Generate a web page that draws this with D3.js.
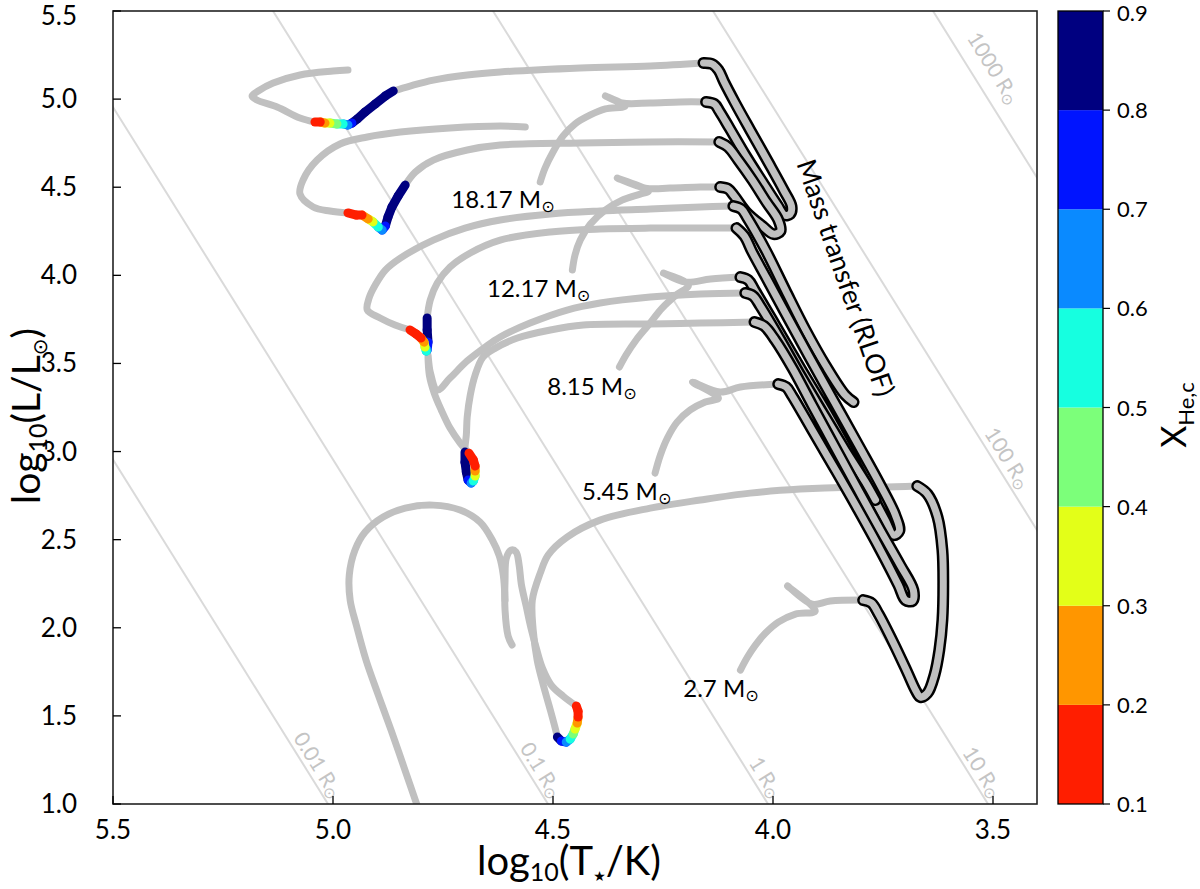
<!DOCTYPE html>
<html><head><meta charset="utf-8">
<script src="https://cdn.jsdelivr.net/npm/d3@7"></script>
<style>
body{margin:0;background:#fff}
svg{display:block}
text{font-family:Lato,"Noto Sans",sans-serif}
</style></head>
<body><svg id="c" width="1200" height="889"></svg>
<script>
// ---------------- data ----------------
const xTicks=[5.5,5.0,4.5,4.0,3.5];
const yTicks=[1.0,1.5,2.0,2.5,3.0,3.5,4.0,4.5,5.0,5.5];
const radii=[0.01,0.1,1,10,100,1000];
const radiusLabels=["0.01 R","0.1 R","1 R","10 R","100 R","1000 R"];
const radiusLabelL=[1.01,1.01,1.01,1.01,2.76,4.92];
const radiusLabelOff=[-5,-5,-5,-5,-6,-14];
const cbBounds=[0.1,0.2,0.3,0.4,0.5,0.6,0.7,0.8,0.9];
const cbColors=["#ff1e00","#ff9600","#e3ff18","#7cff7a","#16ffe0","#0a8aff","#0014ff","#000080"];
const massNames=["18.17","12.17","8.15","5.45","2.7"];
const massLabelAt=[[4.731,4.382],[4.650,3.877],[4.513,3.321],[4.434,2.725],[4.204,1.607]];
const rlofLabelAt=[3.836,3.985];

// evolutionary tracks [log T, log L]
const msA=[[4.529,4.530],[4.518,4.609],[4.500,4.700],[4.477,4.791],[4.450,4.859],[4.415,4.910],[4.381,4.944],[4.336,4.961],[4.381,5.018],[4.343,4.978],[4.279,4.978],[4.211,4.984],[4.152,4.984]];
const rlofA=[[4.152,4.984],[4.133,4.972],[4.122,4.932],[4.099,4.836],[4.063,4.683],[4.024,4.530],[3.990,4.399],[3.974,4.342],[3.961,4.348],[3.958,4.393],[3.976,4.484],[4.011,4.643],[4.052,4.825],[4.086,4.978],[4.111,5.097],[4.124,5.165],[4.138,5.199],[4.158,5.205]];
const postA=[[4.158,5.205],[4.279,5.188],[4.438,5.177],[4.620,5.154],[4.695,5.137],[4.772,5.108],[4.825,5.074],[4.863,5.046]];
const heA=[[4.863,5.046,0.88],[4.881,5.018,0.86],[4.904,4.972,0.85],[4.927,4.927,0.84],[4.945,4.887,0.83],[4.957,4.864,0.81],[4.966,4.853,0.75],[4.977,4.859,0.65],[4.991,4.859,0.55],[5.007,4.864,0.45],[5.018,4.864,0.35],[5.029,4.870,0.25],[5.041,4.870,0.15]];
const endA=[[5.041,4.870],[5.075,4.893],[5.127,4.955],[5.173,4.995],[5.184,5.018],[5.170,5.046],[5.136,5.091],[5.075,5.137],[5.000,5.159],[4.966,5.165]];

const msB=[[4.456,4.030],[4.450,4.115],[4.438,4.200],[4.415,4.291],[4.381,4.371],[4.343,4.427],[4.302,4.461],[4.283,4.478],[4.354,4.552],[4.290,4.495],[4.234,4.495],[4.165,4.501],[4.120,4.501]];
const rlofB=[[4.120,4.501],[4.102,4.490],[4.088,4.450],[4.061,4.359],[4.024,4.280],[3.999,4.234],[3.983,4.251],[3.988,4.314],[4.015,4.416],[4.047,4.541],[4.079,4.654],[4.102,4.728],[4.122,4.757]];
const postB=[[4.122,4.757],[4.279,4.757],[4.438,4.751],[4.620,4.739],[4.695,4.711],[4.772,4.654],[4.813,4.586],[4.836,4.512]];
const heB=[[4.836,4.512,0.88],[4.852,4.450,0.86],[4.866,4.388,0.85],[4.875,4.331,0.83],[4.881,4.280,0.81],[4.888,4.257,0.72],[4.897,4.274,0.62],[4.909,4.303,0.5],[4.920,4.320,0.38],[4.934,4.342,0.28],[4.947,4.342,0.18],[4.966,4.354,0.12]];
const endB=[[4.966,4.354],[5.007,4.365],[5.045,4.388],[5.075,4.461],[5.068,4.541],[5.036,4.654],[4.984,4.745],[4.922,4.785],[4.847,4.813],[4.734,4.836],[4.620,4.847],[4.563,4.842]];

const msC=[[4.349,3.480],[4.334,3.548],[4.311,3.633],[4.283,3.718],[4.252,3.814],[4.220,3.888],[4.192,3.945],[4.249,4.013],[4.199,3.962],[4.142,3.979],[4.074,3.990]];
const rlofC=[[4.074,3.990],[4.056,3.973],[4.042,3.917],[3.995,3.718],[3.938,3.474],[3.881,3.236],[3.824,2.980],[3.779,2.770],[3.745,2.611],[3.726,2.526],[3.713,2.549],[3.722,2.640],[3.756,2.810],[3.806,3.037],[3.863,3.292],[3.920,3.548],[3.972,3.786],[4.015,3.985],[4.047,4.132],[4.065,4.223],[4.083,4.268]];
const postC=[[4.083,4.268],[4.165,4.268],[4.279,4.268],[4.393,4.263],[4.506,4.246],[4.620,4.200],[4.688,4.127],[4.734,4.047],[4.763,3.956],[4.779,3.860],[4.786,3.758]];
const heC=[[4.786,3.758,0.88],[4.786,3.690,0.86],[4.784,3.621,0.83],[4.786,3.576,0.75],[4.788,3.570,0.65],[4.791,3.593,0.5],[4.793,3.621,0.38],[4.800,3.644,0.28],[4.811,3.667,0.18],[4.825,3.690,0.12]];
const endC=[[4.825,3.690],[4.859,3.718],[4.893,3.758],[4.922,3.803],[4.918,3.871],[4.904,3.945],[4.881,4.030],[4.847,4.098],[4.772,4.200],[4.700,4.268],[4.620,4.314],[4.506,4.348],[4.393,4.365],[4.279,4.376],[4.165,4.388],[4.090,4.393]];
const rlofC2=[[4.090,4.393],[4.072,4.376],[4.058,4.325],[4.017,4.144],[3.972,3.917],[3.926,3.690],[3.881,3.491],[3.836,3.321],[3.817,3.281]];

const msD=[[4.268,2.878],[4.256,2.980],[4.240,3.077],[4.218,3.167],[4.188,3.236],[4.154,3.281],[4.124,3.304],[4.183,3.394],[4.120,3.338],[4.074,3.366],[3.988,3.383]];
const rlofD=[[3.988,3.383],[3.970,3.366],[3.956,3.315],[3.911,3.122],[3.858,2.895],[3.806,2.668],[3.756,2.441],[3.715,2.242],[3.699,2.157],[3.683,2.152],[3.681,2.214],[3.711,2.356],[3.756,2.554],[3.806,2.781],[3.858,3.020],[3.911,3.264],[3.956,3.474],[3.995,3.633],[4.020,3.712],[4.042,3.735]];
const postD=[[4.042,3.735],[4.165,3.729],[4.279,3.724],[4.431,3.718],[4.506,3.690],[4.581,3.644],[4.631,3.587],[4.659,3.536],[4.677,3.434],[4.688,3.321],[4.695,3.196],[4.697,3.094],[4.700,3.026],[4.700,2.997]];
const heD=[[4.700,2.997,0.88],[4.700,2.940,0.86],[4.697,2.884,0.84],[4.693,2.838,0.81],[4.686,2.821,0.72],[4.681,2.833,0.62],[4.677,2.861,0.5],[4.677,2.889,0.38],[4.677,2.918,0.28],[4.681,2.952,0.18],[4.691,2.991,0.12]];
const endD=[[4.691,2.991],[4.711,3.048],[4.734,3.133],[4.754,3.236],[4.770,3.332],[4.781,3.434],[4.784,3.548],[4.779,3.451],[4.763,3.349],[4.734,3.417],[4.695,3.514],[4.654,3.593],[4.620,3.650],[4.552,3.729],[4.468,3.803],[4.393,3.843],[4.279,3.877],[4.165,3.894],[4.063,3.900]];
const rlofD2=[[4.063,3.900],[4.045,3.883],[4.029,3.826],[3.983,3.633],[3.938,3.434],[3.888,3.224],[3.836,3.009],[3.790,2.827],[3.767,2.725]];

const msE=[[4.074,1.760],[4.058,1.834],[4.040,1.902],[4.017,1.970],[3.988,2.032],[3.949,2.078],[3.904,2.095],[3.967,2.237],[3.911,2.134],[3.870,2.152],[3.795,2.157]];
const rlofE=[[3.795,2.157],[3.776,2.140],[3.760,2.078],[3.726,1.913],[3.695,1.749],[3.676,1.646],[3.665,1.607],[3.649,1.629],[3.633,1.732],[3.622,1.873],[3.615,2.044],[3.613,2.242],[3.615,2.441],[3.626,2.628],[3.649,2.759],[3.672,2.804]];
const postE=[[3.672,2.804],[3.756,2.798],[3.824,2.798],[3.938,2.787],[4.052,2.764],[4.165,2.725],[4.279,2.679],[4.393,2.611],[4.468,2.515],[4.511,2.413],[4.529,2.310],[4.547,2.157],[4.545,1.987],[4.536,1.817],[4.522,1.675],[4.506,1.533],[4.495,1.431],[4.490,1.380]];
const heE=[[4.490,1.380,0.88],[4.481,1.357,0.82],[4.470,1.351,0.72],[4.461,1.368,0.62],[4.454,1.397,0.52],[4.450,1.425,0.42],[4.445,1.459,0.32],[4.443,1.493,0.25],[4.443,1.527,0.18],[4.447,1.556,0.12]];
const endE=[[4.447,1.556],[4.477,1.612],[4.504,1.675],[4.524,1.771],[4.538,1.885],[4.550,1.998],[4.561,2.123],[4.572,2.248],[4.577,2.356],[4.584,2.430],[4.595,2.441],[4.606,2.396],[4.609,2.271],[4.609,2.100],[4.602,1.953],[4.593,1.902]];
const coolE=[[4.609,2.157],[4.613,2.299],[4.622,2.407],[4.638,2.498],[4.666,2.600],[4.711,2.668],[4.772,2.696],[4.836,2.679],[4.886,2.628],[4.927,2.543],[4.950,2.441],[4.963,2.299],[4.961,2.157],[4.947,2.015],[4.925,1.817],[4.897,1.618],[4.868,1.419],[4.838,1.204],[4.809,0.994]];

const plainTracks=[msA,postA,endA,msB,postB,endB,msC,postC,endC,msD,postD,endD,msE,postE,endE,coolE];
const rlofTracks=[rlofA,rlofB,rlofC2,rlofC,rlofD2,rlofD,rlofE];
const heTracks=[heA,heB,heC,heD,heE];

// ---------------- drawing ----------------
const M={l:113,r:1037,t:11,b:804};
const svg=d3.select('#c');
const x=d3.scaleLinear().domain([5.5,3.4]).range([M.l,M.r]);
const y=d3.scaleLinear().domain([1.0,5.5]).range([M.b,M.t]);
const cb=d3.scaleLinear().domain([0.1,0.9]).range([M.b,M.t]);
const color=d3.scaleThreshold().domain(cbBounds.slice(1,-1)).range(cbColors);

svg.append('clipPath').attr('id','clip').append('rect')
  .attr('x',M.l).attr('y',M.t).attr('width',M.r-M.l).attr('height',M.b-M.t);
const g=svg.append('g').attr('clip-path','url(#clip)');

// iso-radius lines
const LT=Math.log10(5772);
const tOf=(R,L)=>(L-2*Math.log10(R)+4*LT)/4;
radii.forEach((R,i)=>{
  g.append('line').attr('x1',x(tOf(R,0.5))).attr('y1',y(0.5))
   .attr('x2',x(tOf(R,6))).attr('y2',y(6))
   .attr('stroke','#dadada').attr('stroke-width',2);
  const p1=[x(tOf(R,1)),y(1)],p2=[x(tOf(R,2)),y(2)];
  const ang=Math.atan2(p1[1]-p2[1],p1[0]-p2[0])*180/Math.PI;
  const L=radiusLabelL[i];
  const t=g.append('text').attr('transform',`translate(${x(tOf(R,L))},${y(L)}) rotate(${ang}) translate(0,${radiusLabelOff[i]})`)
   .attr('text-anchor','end').attr('fill','#c4c4c4').attr('font-size',21)
   .text(radiusLabels[i]);
  t.append('tspan').attr('font-family','DejaVu Sans').attr('font-size',15).attr('dy',3).text('\u2299');
});

const line=d3.line().x(d=>x(d[0])).y(d=>y(d[1])).curve(d3.curveCatmullRom.alpha(0.5));

plainTracks.forEach(tr=>{
  g.append('path').attr('d',line(tr)).attr('fill','none').attr('stroke','#c0c0c0')
   .attr('stroke-width',7).attr('stroke-linecap','round').attr('stroke-linejoin','round');
});
rlofTracks.forEach(tr=>{
  g.append('path').attr('d',line(tr)).attr('fill','none').attr('stroke','#000')
   .attr('stroke-width',12).attr('stroke-linecap','round').attr('stroke-linejoin','round');
  g.append('path').attr('d',line(tr)).attr('fill','none').attr('stroke','#c0c0c0')
   .attr('stroke-width',7).attr('stroke-linecap','round').attr('stroke-linejoin','round');
});
heTracks.forEach(tr=>{
  for(let i=0;i<tr.length-1;i++){
    g.append('line').attr('x1',x(tr[i][0])).attr('y1',y(tr[i][1]))
     .attr('x2',x(tr[i+1][0])).attr('y2',y(tr[i+1][1]))
     .attr('stroke',color(tr[i+1][2])).attr('stroke-width',9).attr('stroke-linecap','round');
  }
});

// mass labels
massNames.forEach((m,i)=>{
  const t=svg.append('text').attr('x',x(massLabelAt[i][0])).attr('y',y(massLabelAt[i][1]))
    .attr('font-size',24).attr('fill','#000').text(m+' M');
  t.append('tspan').attr('font-family','DejaVu Sans').attr('font-size',16).attr('dy',4).text('\u2299');
});
// RLOF label
svg.append('text').attr('transform',`translate(${x(rlofLabelAt[0])},${y(rlofLabelAt[1])}) rotate(71)`)
  .attr('text-anchor','middle').attr('font-size',27).attr('dy',9).text('Mass transfer (RLOF)');

// frame
svg.append('rect').attr('x',M.l).attr('y',M.t).attr('width',M.r-M.l).attr('height',M.b-M.t)
  .attr('fill','none').attr('stroke','#222').attr('stroke-width',1.6);

// ticks
xTicks.forEach(v=>{
  svg.append('line').attr('x1',x(v)).attr('x2',x(v)).attr('y1',M.b).attr('y2',M.b-8).attr('stroke','#000').attr('stroke-width',1.3);
  svg.append('text').attr('x',x(v)).attr('y',M.b+35).attr('text-anchor','middle').attr('font-size',26).text(d3.format('.1f')(v));
});
yTicks.forEach(v=>{
  svg.append('line').attr('x1',M.l).attr('x2',M.l+8).attr('y1',y(v)).attr('y2',y(v)).attr('stroke','#000').attr('stroke-width',1.3);
  svg.append('text').attr('x',M.l-36).attr('y',Math.max(y(v)+9,25)).attr('text-anchor','end').attr('font-size',26).text(d3.format('.1f')(v));
});

// axis labels
const xl=svg.append('text').attr('x',569).attr('y',875).attr('text-anchor','middle').attr('font-size',40);
xl.append('tspan').text('log');
xl.append('tspan').attr('font-size',25).attr('dy',6).text('10');
xl.append('tspan').attr('dy',-6).text('(T');
xl.append('tspan').attr('font-family','DejaVu Sans').attr('font-size',14).attr('dy',6).text('\u2605');
xl.append('tspan').attr('dy',-6).text('/K)');

const yl=svg.append('text').attr('transform','translate(40,416) rotate(-90)').attr('text-anchor','middle').attr('font-size',39);
yl.append('tspan').text('log');
yl.append('tspan').attr('font-size',25).attr('dy',7).text('10');
yl.append('tspan').attr('dy',-7).text('(L/L');
yl.append('tspan').attr('font-family','DejaVu Sans').attr('font-size',20).attr('dy',7).text('\u2299');
yl.append('tspan').attr('dy',-7).text(')');

// colorbar
const cbx=1058,cbw=45;
cbColors.forEach((c,i)=>{
  svg.append('rect').attr('x',cbx).attr('width',cbw).attr('y',cb(cbBounds[i+1])).attr('height',cb(cbBounds[i])-cb(cbBounds[i+1])).attr('fill',c);
});
svg.append('rect').attr('x',cbx).attr('width',cbw).attr('y',M.t).attr('height',M.b-M.t).attr('fill','none').attr('stroke','#000').attr('stroke-width',1.3);
cbBounds.forEach(v=>{
  svg.append('line').attr('x1',cbx+cbw).attr('x2',cbx+cbw+7).attr('y1',cb(v)).attr('y2',cb(v)).attr('stroke','#000').attr('stroke-width',1.2);
  svg.append('text').attr('x',cbx+cbw+14).attr('y',Math.max(cb(v)+8,21)).attr('font-family','DejaVu Sans').attr('font-size',22).text(d3.format('.1f')(v));
});
const cl=svg.append('text').attr('transform','translate(1186,415) rotate(-90)').attr('text-anchor','middle').attr('font-size',34);
cl.append('tspan').text('X');
cl.append('tspan').attr('font-size',22).attr('dy',8).text('He,c');
</script></body></html>
